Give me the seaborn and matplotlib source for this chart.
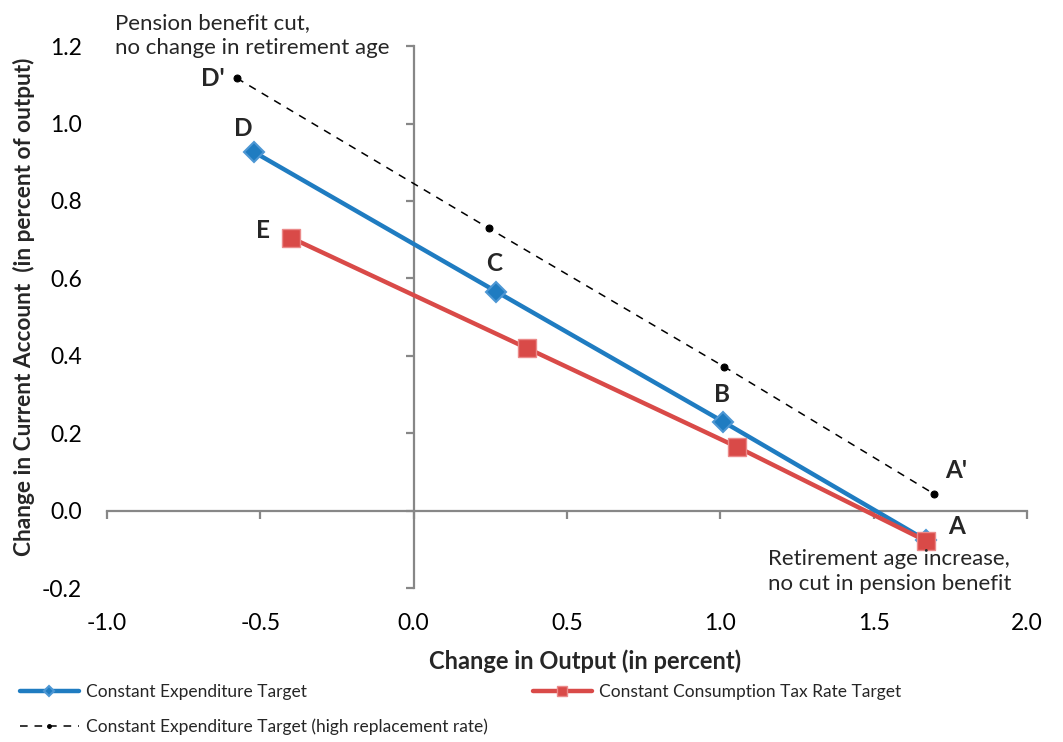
import matplotlib
matplotlib.use("Agg")
import matplotlib.pyplot as plt
import seaborn as sns

# Constant Expenditure Target (points D, C, B, A)
exp_x = [-0.52, 0.27, 1.01, 1.67]
exp_y = [0.926, 0.566, 0.230, -0.075]

# Constant Consumption Tax Rate Target (points E, ..., A)
tax_x = [-0.40, 0.37, 1.055, 1.67]
tax_y = [0.705, 0.42, 0.165, -0.077]

# Constant Expenditure Target, high replacement rate (D' ... A')
high_x = [-0.577, 0.244, 1.013, 1.697]
high_y = [1.117, 0.73, 0.372, 0.044]

x_ticks = [-1.0, -0.5, 0.0, 0.5, 1.0, 1.5, 2.0]
y_ticks = [-0.2, 0.0, 0.2, 0.4, 0.6, 0.8, 1.0, 1.2]

BLUE = "#1f7cc1"
RED = "#d94a48"
GREY = "#878787"

sns.set_style("white")
plt.rcParams["font.family"] = ["Lato", "DejaVu Sans"]

fig = plt.figure(figsize=(10.63, 7.42), dpi=100)
pos = [0.1007, 0.2069, 0.8654, 0.7311]
ax = fig.add_axes(pos)
axl = fig.add_axes(pos, sharex=ax, sharey=ax)  # axis lines through the origin
ax.set_zorder(2)
ax.patch.set_visible(False)
axl.set_zorder(1)

sns.lineplot(x=high_x, y=high_y, ax=ax, sort=False, color="black", lw=1.1,
             linestyle=(0, (5, 4.5)), marker="o", markersize=5, markeredgecolor="black",
             label="Constant Expenditure Target (high replacement rate)")
sns.lineplot(x=exp_x, y=exp_y, ax=ax, sort=False, color=BLUE, lw=3.2,
             marker="D", markersize=10, markeredgecolor="#4d97d4", markeredgewidth=1.5,
             label="Constant Expenditure Target")
sns.lineplot(x=tax_x, y=tax_y, ax=ax, sort=False, color=RED, lw=3.2,
             marker="s", markersize=13, markeredgecolor="#eb8a8a", markeredgewidth=1,
             label="Constant Consumption Tax Rate Target")

ax.set_xlim(-1.0, 2.0)
ax.set_ylim(-0.2, 1.2)
ax.set_xticks(x_ticks)
ax.set_yticks(y_ticks)
ax.set_xticklabels([f"{v:.1f}" for v in x_ticks])
ax.set_yticklabels([f"{v:.1f}" for v in y_ticks])
for s in ax.spines.values():
    s.set_visible(False)
ax.tick_params(axis="both", length=0, labelsize=16.5, colors="black")
ax.tick_params(axis="x", pad=18)
ax.tick_params(axis="y", pad=18)
ax.set_xlabel("Change in Output (in percent)", fontsize=17, fontweight="bold")
ax.set_ylabel("Change in Current Account  (in percent of output)", fontsize=16.3,
              fontweight="bold")
ax.xaxis.set_label_coords(0.52, -0.113)
ax.yaxis.set_label_coords(-0.078, 0.52)

for name in ["top", "right"]:
    axl.spines[name].set_visible(False)
for name in ["left", "bottom"]:
    axl.spines[name].set_position(("data", 0))
    axl.spines[name].set_color(GREY)
    axl.spines[name].set_linewidth(1.6)
axl.tick_params(labelleft=False, labelbottom=False, left=True, bottom=True,
                direction="out", length=6, width=1.6, color=GREY)
axl.grid(False)

# point labels
bold = dict(fontsize=17.5, fontweight="bold", ha="center", va="center",
            textcoords="offset points", annotation_clip=False)
ax.annotate("D'", (high_x[0], high_y[0]), xytext=(-17, 0), **bold)
ax.annotate("A'", (high_x[3], high_y[3]), xytext=(16, 17), **bold)
ax.annotate("D", (exp_x[0], exp_y[0]), xytext=(-8, 17), **bold)
ax.annotate("C", (exp_x[1], exp_y[1]), xytext=(-2, 20), **bold)
ax.annotate("B", (exp_x[2], exp_y[2]), xytext=(-1, 20), **bold)
ax.annotate("E", (tax_x[0], tax_y[0]), xytext=(-20, 5), **bold)
ax.annotate("A", (tax_x[3], tax_y[3]), xytext=(22, 10), **bold)

ax.text(-0.975, 1.17, "Pension benefit cut,\nno change in retirement age",
        fontsize=16, ha="left", va="bottom", linespacing=1.3, clip_on=False)
ax.text(1.156, -0.098, "Retirement age increase,\nno cut in pension benefit",
        fontsize=16, ha="left", va="top", linespacing=1.3, clip_on=False)

handles, labels = ax.get_legend_handles_labels()
ax.get_legend().remove()
order = [1, 0, 2]
fig.legend([handles[i] for i in order], [labels[i] for i in order],
           loc="upper left", bbox_to_anchor=(0.012, 0.087), ncol=2, frameon=False,
           fontsize=12.5, handlelength=3.4, handletextpad=0.4, columnspacing=2.6,
           labelspacing=1.05, markerscale=0.55, borderaxespad=0)

fig.savefig("out.png", dpi=100)
